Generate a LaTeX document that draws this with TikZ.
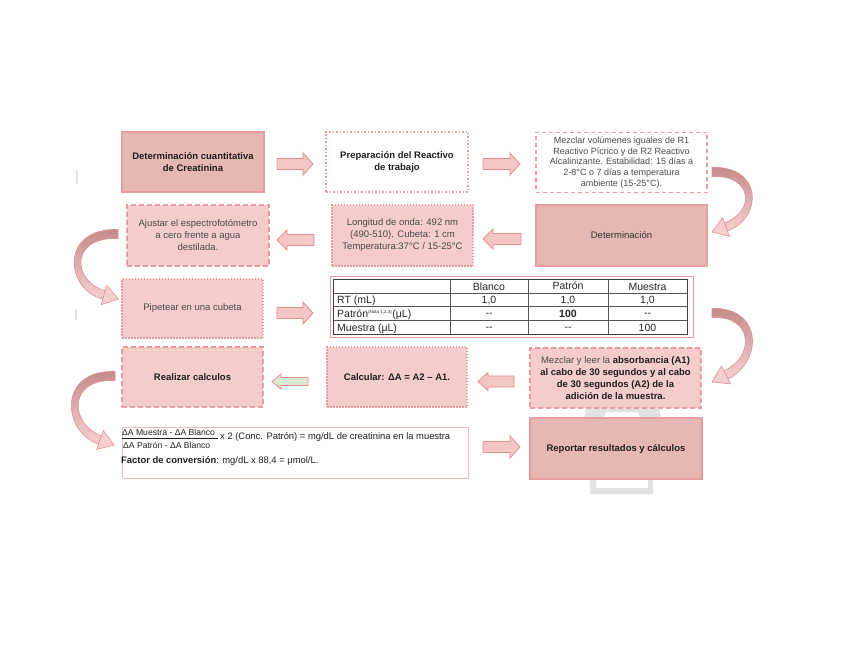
\documentclass[tikz,border=0pt]{standalone}
\usepackage{fontspec}
\setmainfont{Liberation Sans}
\usetikzlibrary{calc}
\definecolor{darkbox}{HTML}{E6B8B4}
\definecolor{lightbox}{HTML}{F4CCCC}
\definecolor{bord}{HTML}{EA9C9C}
\definecolor{arrfill}{HTML}{F4C6C6}
\definecolor{arrbord}{HTML}{E48E8E}
\definecolor{greenfill}{HTML}{D9EAD3}
\definecolor{txt}{HTML}{1F1F1F}
\definecolor{txtgray}{HTML}{4A4A4A}
\definecolor{curvedark}{HTML}{C48A8A}
\definecolor{curvelight}{HTML}{F6D0D0}
\definecolor{wm}{HTML}{E2E2E2}
\definecolor{tabline}{HTML}{555555}
\newcommand{\blockarr}[7]{% x1 x2 y shafthalf headhalf headlen style
  \pgfmathsetmacro{\bhl}{(#2>#1)?#6:-#6}
  \draw[#7] ({#1},{#3-#4}) -- ({#2-(\bhl)},{#3-#4}) -- ({#2-(\bhl)},{#3-#5}) -- ({#2},{#3})
    -- ({#2-(\bhl)},{#3+#5}) -- ({#2-(\bhl)},{#3+#4}) -- ({#1},{#3+#4}) -- cycle;
}
\begin{document}
\begin{tikzpicture}[x=1pt,y=-1pt,
  boxbase/.style={line width=1.3pt, draw=bord, inner sep=2pt, align=center,
    font=\fontsize{9.5}{12}\selectfont, text=txt},
  bfont/.style={font=\fontsize{9.5}{12}\selectfont\bfseries},
  darkb/.style={boxbase, fill=darkbox},
  lightdash/.style={boxbase, fill=lightbox, dash pattern=on 5pt off 3pt},
  lightdot/.style={boxbase, fill=lightbox, dash pattern=on 1.5pt off 1.5pt},
  whitedot/.style={boxbase, fill=white, dash pattern=on 1.5pt off 2pt},
  whitedash/.style={boxbase, fill=white, dash pattern=on 4pt off 3pt},
  barrow/.style={fill=arrfill, draw=arrbord, line width=0.8pt},
  garrow/.style={fill=greenfill, draw=arrbord, line width=0.8pt},
  cband/.style={draw=arrbord, line width=0.6pt, top color=curvedark, bottom color=curvelight},
  chead/.style={fill=curvelight, draw=arrbord, line width=0.6pt, line join=miter},
  tabtxt/.style={font=\fontsize{10.5}{12}\selectfont, text=black!85, inner sep=0pt, anchor=base},
  ftxt/.style={font=\fontsize{9.4}{11}\selectfont, text=txt, inner sep=0pt, anchor=west},
]
\path[use as bounding box, fill=white] (0,0) rectangle (848,655);

% faint watermark pieces
\fill[wm] (587,404) -- (658,404) -- (662,421) -- (642,421) -- (638,412) -- (606,412) -- (602,421) -- (584,421) -- cycle;
\fill[wm] (590,479) -- (590,494) -- (653,494) -- (653,479) -- (648,479) -- (648,488) -- (596,488) -- (596,479) -- cycle;
\draw[wm, line width=1.5pt] (77,171) -- (77,184);
\draw[wm, line width=1.5pt] (76,309) -- (76,320);

% row 1
\node[darkb, bfont, minimum width=142, minimum height=60] (A) at (193,162)
  {Determinación cuantitativa\\de Creatinina};
\node[whitedot, bfont, minimum width=142, minimum height=60] (B) at (397,162)
  {Preparación del Reactivo\\de trabajo};
\node[whitedash, minimum width=171, minimum height=60, text=txtgray, font=\fontsize{9}{10.8}\selectfont] (C) at (621.5,162.5)
  {Mezclar volúmenes iguales de R1\\Reactivo Pícrico y de R2 Reactivo\\Alcalinizante. Estabilidad: 15 días a\\2-8°C o 7 días a temperatura\\ambiente (15-25°C).};

% row 2
\node[darkb, minimum width=171, minimum height=61, text=black!80] (D) at (621.5,235.5) {Determinación};
\node[lightdot, minimum width=141, minimum height=61, text=txtgray] (E) at (402.5,235.5)
  {Longitud de onda: 492 nm\\(490-510). Cubeta: 1 cm\\Temperatura:37°C / 15-25°C};
\node[lightdash, minimum width=142, minimum height=61, text=txtgray] (F) at (198,235.5)
  {Ajustar el espectrofotómetro\\a cero frente a agua\\destilada.};

% row 3
\node[lightdot, minimum width=141, minimum height=59, text=txtgray] (G) at (192.5,308.5) {Pipetear en una cubeta};
\node[draw=bord, line width=0.6pt, minimum width=363, minimum height=61, inner sep=0pt] (T) at (511.5,306.5) {};

% table grid
\draw[tabline, line width=0.6pt] (333,293) -- (687,293) (333,306) -- (687,306) (333,320) -- (687,320);
\draw[tabline, line width=1pt] (450,279) -- (450,334) (528,279) -- (528,334) (608,279) -- (608,334);
\draw[black!75, line width=1pt] (333,279) rectangle (687,334);
\node[tabtxt] (h2) at (489,290.5) {Blanco};
\node[tabtxt] (h3) at (568,289.5) {Patrón};
\node[tabtxt] (h4) at (647.5,290.5) {Muestra};
\node[tabtxt, anchor=base west] (r1) at (337,303.5) {RT (mL)};
\node[tabtxt] (r1a) at (489,303.5) {1,0};
\node[tabtxt] (r1b) at (568,303.5) {1,0};
\node[tabtxt] (r1c) at (647.5,303.5) {1,0};
\node[tabtxt, anchor=base west] (r2) at (337,317.5) {Patrón\textsuperscript{\fontsize{4.5}{5}\selectfont(Nota 1,2,3)}(μL)};
\node[tabtxt] (r2a) at (489,316.5) {-{}-};
\node[tabtxt, font=\fontsize{10.5}{12}\selectfont\bfseries] (r2b) at (568,317.5) {100};
\node[tabtxt] (r2c) at (647.5,316.5) {-{}-};
\node[tabtxt, anchor=base west] (r3) at (337,331.5) {Muestra (μL)};
\node[tabtxt] (r3a) at (489,330.5) {-{}-};
\node[tabtxt] (r3b) at (568,330.5) {-{}-};
\node[tabtxt] (r3c) at (647.5,331.5) {100};

% row 4
\node[lightdash, bfont, minimum width=141, minimum height=60] (H) at (192.5,377) {Realizar calculos};
\node[lightdot, bfont, minimum width=140, minimum height=60] (I) at (397,377) {Calcular: ΔA = A2 – A1.};
\node[lightdash, minimum width=171, minimum height=60] (J) at (615.5,378)
  {{\color{txtgray}Mezclar y leer la} \textbf{absorbancia (A1)}\\\textbf{al cabo de 30 segundos y al cabo}\\\textbf{de 30 segundos (A2) de la}\\\textbf{adición de la muestra.}};

% row 5
\node[draw=bord!70, line width=0.6pt, fill=white, minimum width=346, minimum height=51, inner sep=0pt] (K) at (295,452.5) {};
\node[ftxt, font=\fontsize{8.6}{9}\selectfont] (num) at (122,432) {ΔA Muestra - ΔA Blanco};
\draw[txt, line width=0.7pt] (122,438.5) -- (218,438.5);
\node[ftxt, font=\fontsize{8.6}{9}\selectfont] (den) at (123,445) {ΔA Patrón - ΔA Blanco};
\node[ftxt] (eq) at (220,437.5) {x 2 (Conc. Patrón) = mg/dL de creatinina en la muestra};
\node[ftxt] (fac) at (121,461) {\textbf{Factor de conversión}: mg/dL x 88,4 = μmol/L.};
\node[darkb, bfont, minimum width=172, minimum height=61] (L) at (616,448.5) {Reportar resultados y cálculos};

% straight block arrows
\blockarr{277}{313}{164}{5.5}{11}{10}{barrow}
\blockarr{483}{520}{164}{5.5}{11}{10}{barrow}
\blockarr{521}{483}{239}{5.5}{10}{10}{barrow}
\blockarr{314}{277}{240}{5.5}{10}{10}{barrow}
\blockarr{277}{313}{313}{5.5}{11}{10}{barrow}
\blockarr{308}{272}{381.5}{4}{7.5}{9}{garrow}
\blockarr{514}{478}{381.5}{5.5}{9}{10}{barrow}
\blockarr{483}{520}{447}{5.5}{11}{10}{barrow}

% curved arrows, left side
\path[cband] (118,229.5) .. controls (61,227.5) and (63.5,288) .. (102.8,299.3)
  -- (105.2,290.7) .. controls (72.5,282) and (69,236.5) .. (118,238.5) -- cycle;
\path[chead] (101.3,304.6) -- (118.5,299.1) -- (106.7,285.4) -- cycle;
\path[cband] (115,371.5) .. controls (58,369.5) and (61.5,431) .. (98.5,444.2)
  -- (101.5,435.8) .. controls (70.5,425) and (66,378.5) .. (115,380.5) -- cycle;
\path[chead] (96.7,449.4) -- (114,445) -- (103.3,430.6) -- cycle;

% curved arrows, right side
\path[cband] (712,167.5) .. controls (761,165.5) and (764.5,216) .. (727.5,231.2)
  -- (724.5,222.8) .. controls (755.5,212) and (753,174.5) .. (712,176.5) -- cycle;
\path[chead] (729.4,236.4) -- (712,232) -- (722.6,217.6) -- cycle;
\path[cband] (712,308.5) .. controls (761,306.5) and (764.5,360) .. (728,379)
  -- (724,371) .. controls (755.5,356) and (753,315.5) .. (712,317.5) -- cycle;
\path[chead] (730.5,383.9) -- (712,382) -- (721.5,366.1) -- cycle;
\end{tikzpicture}
\end{document}
